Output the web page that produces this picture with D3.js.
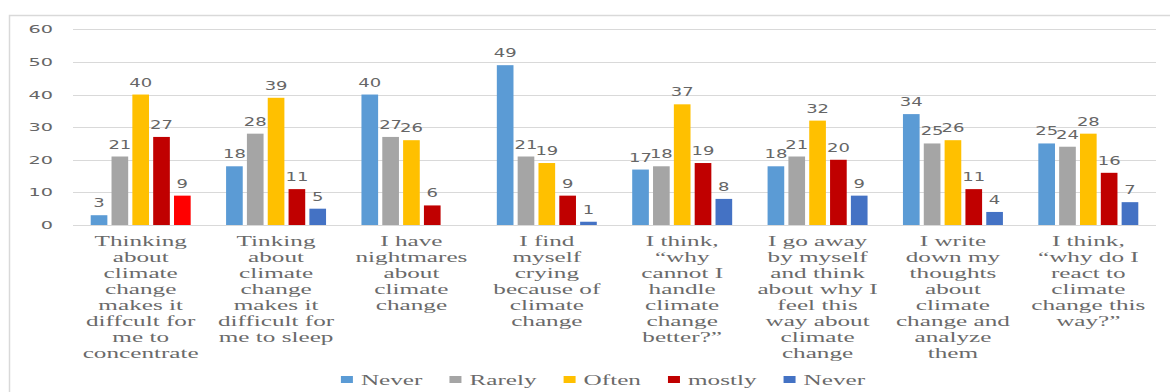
<!DOCTYPE html>
<html>
<head>
<meta charset="utf-8">
<script src="https://cdn.jsdelivr.net/npm/d3@7"></script>
<style>
  html, body { margin: 0; padding: 0; background: #ffffff; }
  svg { display: block; }
</style>
</head>
<body>
<svg id="chart" width="1170" height="392"></svg>
<script>
// ---- data ----
const categories = [
  ["Thinking","about","climate","change","makes it","diffcult for","me to","concentrate"],
  ["Tinking","about","climate","change","makes it","difficult for","me to sleep"],
  ["I have","nightmares","about","climate","change"],
  ["I find","myself","crying","because of","climate","change"],
  ["I think,","\u201cwhy","cannot I","handle","climate","change","better?\u201d"],
  ["I go away","by myself","and think","about why I","feel this","way about","climate","change"],
  ["I write","down my","thoughts","about","climate","change and","analyze","them"],
  ["I think,","\u201cwhy do I","react to","climate","change this","way?\u201d"]
];
const seriesNames = ["Never", "Rarely", "Often", "mostly", "Never"];
const neverValues   = [3, 18, 40, 49, 17, 18, 34, 25];
const rarelyValues  = [21, 28, 27, 21, 18, 21, 25, 24];
const oftenValues   = [40, 39, 26, 19, 37, 32, 26, 28];
const mostlyValues  = [27, 11, 6, 9, 19, 20, 11, 16];
const never2Values  = [9, 5, 0, 1, 8, 9, 4, 7];
const yTicks = [0, 10, 20, 30, 40, 50, 60];

// ---- styles ----
const seriesColors = ["#5B9BD5", "#A5A5A5", "#FFC000", "#C00000", "#4472C4"];
const colorOverride = {"0-4": "#FF0000"}; // first category's last bar is drawn bright red
const textColor = "#666666";
const catTextColor = "#6a6a6a";
const gridColor = "#D9D9D9";

const seriesValues = [neverValues, rarelyValues, oftenValues, mostlyValues, never2Values];

const svg = d3.select("#chart");

// chart frame
svg.append("path")
  .attr("d", "M9.5,392 L9.5,15.5 L1170,15.5")
  .attr("fill", "none").attr("stroke", gridColor).attr("stroke-width", 1.5);

const plot = { left: 73, right: 1156, top: 29.3, bottom: 225 };

const y = d3.scaleLinear().domain([0, 60]).range([plot.bottom, plot.top]);
const x0 = d3.scaleBand().domain(d3.range(categories.length)).range([plot.left, plot.right]).padding(0);
const x1 = d3.scaleBand().domain(d3.range(seriesNames.length)).range([0, x0.bandwidth()])
  .paddingInner(0.2).paddingOuter(0.85);

// gridlines
svg.append("g").selectAll("line").data(yTicks).join("line")
  .attr("x1", plot.left).attr("x2", plot.right)
  .attr("y1", d => Math.round(y(d)) + 0.5).attr("y2", d => Math.round(y(d)) + 0.5)
  .attr("stroke", gridColor).attr("stroke-width", 1.2);

// stretched text helper
function stretchedText(sel, sx) {
  return sel.attr("transform", function(d) {
    const tx = +this.getAttribute("data-x"), ty = +this.getAttribute("data-y");
    return `translate(${tx},${ty}) scale(${sx},1)`;
  });
}

// y tick labels
svg.append("g").selectAll("text").data(yTicks).join("text")
  .attr("data-x", 53).attr("data-y", d => y(d) + 4)
  .attr("text-anchor", "end")
  .attr("font-family", "DejaVu Sans, Verdana, sans-serif")
  .attr("font-size", 11)
  .attr("fill", textColor)
  .text(d => d)
  .call(stretchedText, 1.75);

// bars
const groups = svg.append("g").selectAll("g").data(categories).join("g")
  .attr("transform", (d, i) => `translate(${x0(i)},0)`);

groups.selectAll("rect")
  .data((d, i) => seriesValues.map((vals, s) => ({ cat: i, s, v: vals[i] })))
  .join("rect")
  .attr("x", d => x1(d.s))
  .attr("width", x1.bandwidth())
  .attr("y", d => y(d.v))
  .attr("height", d => y(0) - y(d.v))
  .attr("fill", d => colorOverride[`${d.cat}-${d.s}`] || seriesColors[d.s]);

// data labels
groups.selectAll("text.val")
  .data((d, i) => seriesValues.map((vals, s) => ({ cat: i, s, v: vals[i] })).filter(d => d.v > 0))
  .join("text")
  .attr("class", "val")
  .attr("data-x", d => x1(d.s) + x1.bandwidth() / 2)
  .attr("data-y", d => y(d.v) - 8)
  .attr("text-anchor", "middle")
  .attr("font-family", "DejaVu Sans, Verdana, sans-serif")
  .attr("font-size", 12)
  .attr("fill", textColor)
  .text(d => d.v)
  .call(stretchedText, 1.5);

// category labels
const catG = svg.append("g").selectAll("g").data(categories).join("g");
catG.selectAll("text")
  .data((lines, i) => lines.map((t, k) => ({ t, k, i })))
  .join("text")
  .attr("data-x", d => x0(d.i) + x0.bandwidth() / 2)
  .attr("data-y", d => 246 + d.k * 16)
  .attr("text-anchor", "middle")
  .attr("font-family", "Liberation Serif, Times New Roman, serif")
  .attr("font-size", 14)
  .attr("fill", catTextColor)
  .text(d => d.t)
  .call(stretchedText, 1.8);

// legend
const legendSX = 1.8;
const legendY = 380;
const textOffset = 20;
const legend = svg.append("g");
const items = legend.selectAll("g").data(seriesNames).join("g");
items.append("rect")
  .attr("y", legendY - 4).attr("width", 12).attr("height", 7)
  .attr("fill", (d, i) => seriesColors[i]);
items.append("text")
  .attr("data-x", textOffset).attr("data-y", legendY + 5)
  .attr("font-family", "Liberation Serif, Times New Roman, serif")
  .attr("font-size", 14)
  .attr("fill", catTextColor)
  .text(d => d)
  .call(stretchedText, legendSX);
// layout legend items horizontally, centered
let widths = [];
items.each(function() {
  const t = d3.select(this).select("text").node();
  widths.push(textOffset + t.getComputedTextLength() * legendSX);
});
const gap = 27;
const total = d3.sum(widths) + gap * (widths.length - 1);
let cx = 603 - total / 2;
items.attr("transform", (d, i) => {
  const tx = cx;
  cx += widths[i] + gap;
  return `translate(${tx},0)`;
});
</script>
</body>
</html>
